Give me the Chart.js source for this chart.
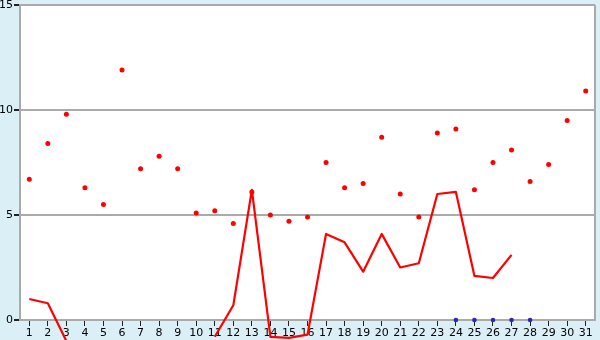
<!DOCTYPE html>
<html>
<head>
<meta charset="utf-8">
<script src="https://cdn.jsdelivr.net/npm/chart.js@4/dist/chart.umd.min.js"></script>
<style>
  html, body { margin: 0; padding: 0; background: #daf0f6; }
  #wrap { width: 600px; height: 340px; }
</style>
</head>
<body>
<div id="wrap"><canvas id="grafico" width="600" height="340"></canvas></div>
<script>
const dias = ['1','2','3','4','5','6','7','8','9','10','11','12','13','14','15','16','17','18','19','20','21','22','23','24','25','26','27','28','29','30','31'];
const pontos = [6.7, 8.4, 9.8, 6.3, 5.5, 11.9, 7.2, 7.8, 7.2, 5.1, 5.2, 4.6, 6.1, 5.0, 4.7, 4.9, 7.5, 6.3, 6.5, 8.7, 6.0, 4.9, 8.9, 9.1, 6.2, 7.5, 8.1, 6.6, 7.4, 9.5, 10.9];
const linha = [1.0, 0.8, -1.0, null, null, null, null, null, null, null, -0.8, 0.7, 6.2, -0.8, -0.85, -0.7, 4.1, 3.7, 2.3, 4.1, 2.5, 2.7, 6.0, 6.1, 2.1, 2.0, 3.1, null, null, null, null];
const marcas = [null, null, null, null, null, null, null, null, null, null, null, null, null, null, null, null, null, null, null, null, null, null, null, 0, 0, 0, 0, 0, null, null, null];
const yTicks = [0, 5, 10, 15];

const bordaDireita = {
    id: 'bordaDireita',
    beforeDraw(chart) {
        const { ctx, chartArea } = chart;
        ctx.save();
        ctx.fillStyle = '#ffffff';
        ctx.fillRect(chartArea.left, chartArea.top, chartArea.right - chartArea.left, chartArea.bottom - chartArea.top);
        ctx.restore();
    },
    afterDatasetsDraw(chart) {
        const { ctx, chartArea } = chart;
        ctx.save();
        ctx.strokeStyle = '#aaaaaa';
        ctx.lineWidth = 2;
        ctx.beginPath();
        ctx.moveTo(chartArea.right, chartArea.top);
        ctx.lineTo(chartArea.right, chartArea.bottom);
        ctx.stroke();
        ctx.restore();
    }
};

const ctx = document.getElementById('grafico').getContext('2d');
new Chart(ctx, {
    type: 'line',
    data: {
        labels: dias,
        datasets: [{
            data: linha,
            borderColor: '#ff0000',
            borderWidth: 2.2,
            borderJoinStyle: 'round',
            pointRadius: 0,
            spanGaps: false,
            tension: 0,
            clip: false,
            order: 2
        }, {
            data: pontos,
            showLine: false,
            pointStyle: 'circle',
            pointRadius: 2.5,
            pointBackgroundColor: '#ff0000',
            pointBorderWidth: 0,
            order: 1
        }, {
            data: marcas,
            showLine: false,
            pointStyle: 'circle',
            pointRadius: 2.3,
            pointBackgroundColor: '#2a2ab0',
            pointBorderWidth: 0,
            clip: false,
            order: 0
        }]
    },
    options: {
        responsive: false,
        animation: false,
        layout: { padding: { top: 5, right: 5, left: 0, bottom: 0 } },
        plugins: { legend: { display: false }, tooltip: { enabled: false } },
        scales: {
            x: {
                offset: true,
                grid: { drawOnChartArea: false, color: '#222222', tickLength: 6, offset: false },
                border: { color: '#aaaaaa', width: 2 },
                ticks: { color: '#000000', font: { family: 'DejaVu Sans', size: 11 }, padding: 1, maxRotation: 0, autoSkip: false },
                afterFit: s => { s.height = 20; s.paddingLeft = 0; s.paddingRight = 0; }
            },
            y: {
                min: 0,
                max: 15,
                afterBuildTicks: s => { s.ticks = yTicks.map(v => ({ value: v })); },
                grid: { color: '#aaaaaa', lineWidth: 2, tickColor: '#222222', tickLength: 6 },
                border: { color: '#aaaaaa', width: 2 },
                ticks: { color: '#000000', font: { family: 'DejaVu Sans', size: 11 }, padding: 1 },
                afterFit: s => { s.width = 20; s.paddingTop = 0; s.paddingBottom = 0; }
            }
        }
    },
    plugins: [bordaDireita]
});
</script>
</body>
</html>
